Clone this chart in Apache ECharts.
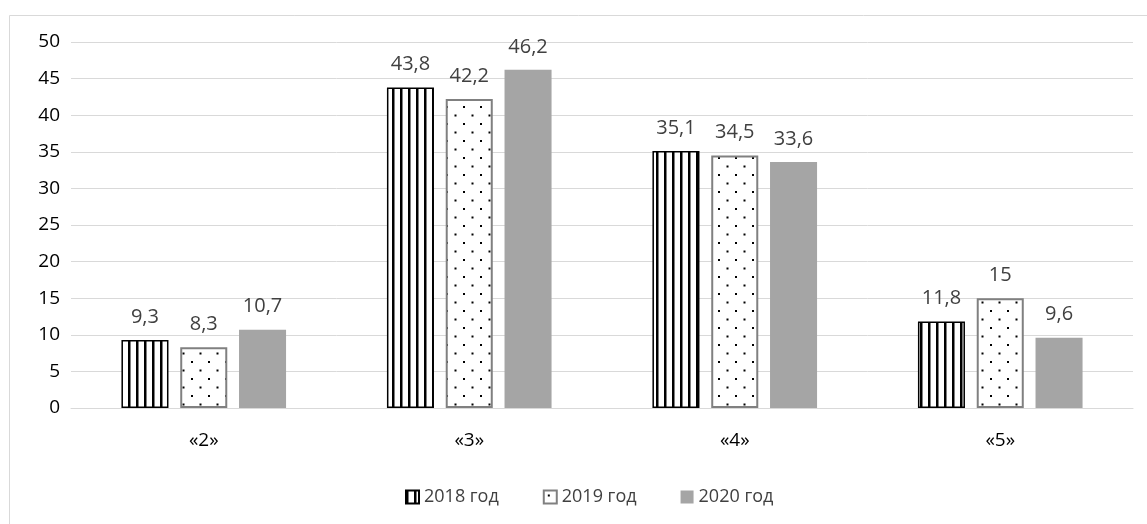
<!DOCTYPE html>
<html>
<head>
<meta charset="utf-8">
<script src="https://cdn.jsdelivr.net/npm/echarts@6/dist/echarts.min.js"></script>
<style>
html,body{margin:0;padding:0;background:#fff;}
#chart{width:1147px;height:524px;}
</style>
</head>
<body>
<div id="chart"></div>
<script>
var categories = ['«2»', '«3»', '«4»', '«5»'];
var seriesNames = ['2018 год', '2019 год', '2020 год'];
var values2018 = [9.3, 43.8, 35.1, 11.8];
var values2019 = [8.3, 42.2, 34.5, 15];
var values2020 = [10.7, 46.2, 33.6, 9.6];
var yTicks = [0, 5, 10, 15, 20, 25, 30, 35, 40, 45, 50];

function stripePattern() {
  var c = document.createElement('canvas');
  c.width = 8; c.height = 8;
  var g = c.getContext('2d');
  g.fillStyle = '#ffffff'; g.fillRect(0, 0, 8, 8);
  g.fillStyle = '#000000'; g.fillRect(0, 0, 2.5, 8);
  return c;
}
function dotPattern() {
  var c = document.createElement('canvas');
  c.width = 17; c.height = 17;
  var g = c.getContext('2d');
  g.fillStyle = '#ffffff'; g.fillRect(0, 0, 17, 17);
  g.fillStyle = '#000000';
  g.fillRect(4, 4, 2, 2);
  g.fillRect(12.5, 12.5, 2, 2);
  return c;
}

var chart = echarts.init(document.getElementById('chart'), null, {renderer: 'canvas'});
var fontFamily = '"Open Sans", "DejaVu Sans", sans-serif';
var labelStyle = {
  show: true, position: 'top', distance: 13,
  color: '#404040', fontSize: 20, fontFamily: fontFamily,
  formatter: function (p) { return String(p.value).replace('.', ','); }
};

chart.setOption({
  animation: false,
  backgroundColor: '#ffffff',
  graphic: [{
    type: 'rect', left: 7, top: 13, silent: true,
    shape: {x: 0, y: 0, width: 1200, height: 600},
    style: {fill: 'none', stroke: '#d9d9d9', lineWidth: 1}
  }],
  grid: {left: 71, right: 14, top: 42, bottom: 116, containLabel: false},
  legend: {
    left: 400, top: 483, icon: 'rect',
    itemWidth: 13, itemHeight: 13, itemGap: 44,
    textStyle: {color: '#404040', fontSize: 18, fontFamily: fontFamily, padding: [0, 0, 0, 0]},
    data: seriesNames
  },
  xAxis: {
    type: 'category', data: categories,
    axisLine: {show: true, lineStyle: {color: '#d9d9d9', width: 1}},
    axisTick: {show: false},
    axisLabel: {color: '#000000', fontSize: 19, fontFamily: fontFamily, margin: 23}
  },
  yAxis: {
    type: 'value', min: yTicks[0], max: yTicks[yTicks.length - 1], interval: 5,
    axisLine: {show: false}, axisTick: {show: false},
    splitLine: {lineStyle: {color: '#d9d9d9', width: 1}},
    axisLabel: {color: '#000000', fontSize: 19, fontFamily: fontFamily, margin: 11}
  },
  series: [{
    name: seriesNames[0], type: 'bar', data: values2018,
    barCategoryGap: '38%', barGap: '25%',
    itemStyle: {color: {image: stripePattern(), repeat: 'repeat'}, borderColor: '#000000', borderWidth: 1.5},
    label: labelStyle
  }, {
    name: seriesNames[1], type: 'bar', data: values2019,
    barCategoryGap: '38%', barGap: '25%',
    itemStyle: {color: {image: dotPattern(), repeat: 'repeat'}, borderColor: '#808080', borderWidth: 2},
    label: labelStyle
  }, {
    name: seriesNames[2], type: 'bar', data: values2020,
    barCategoryGap: '38%', barGap: '25%',
    itemStyle: {color: '#a5a5a5'},
    label: labelStyle
  }]
});
</script>
</body>
</html>
